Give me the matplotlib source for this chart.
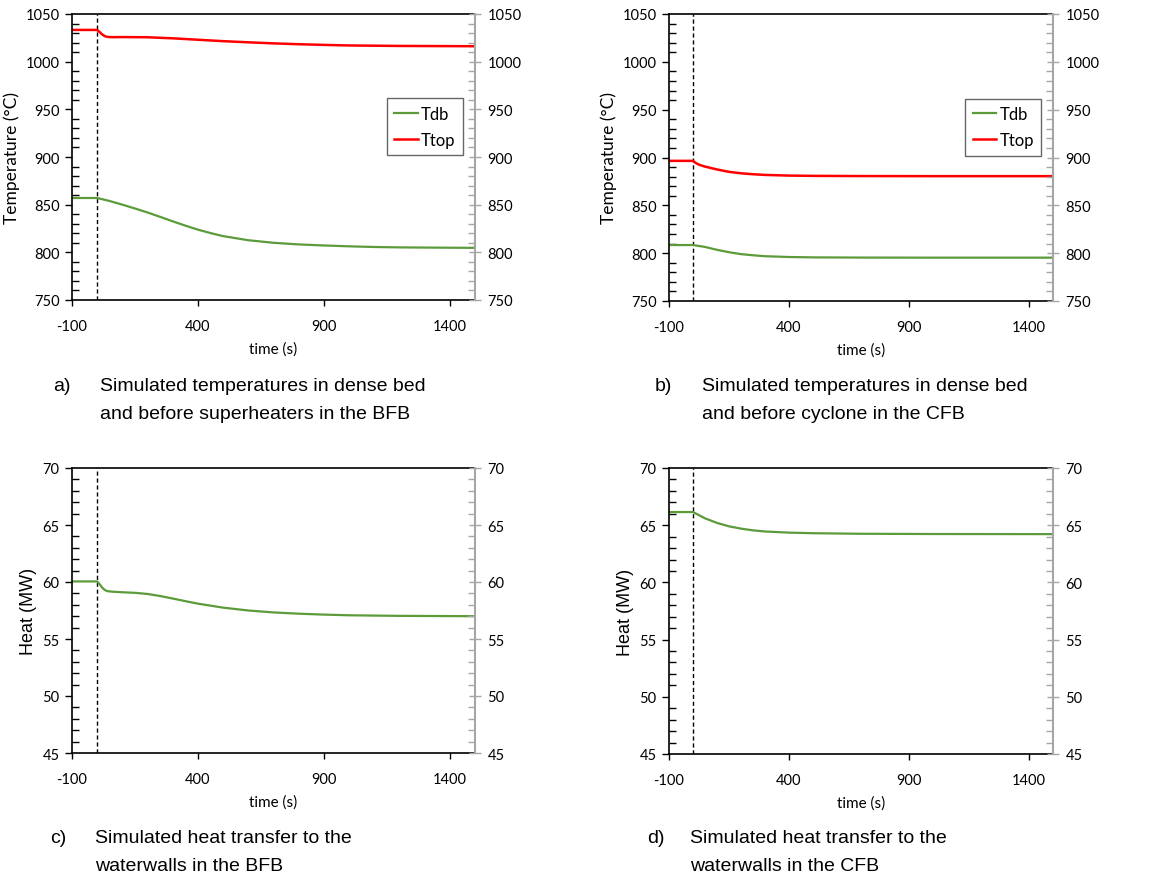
import matplotlib.pyplot as plt
from matplotlib.ticker import MultipleLocator

plt.rcParams['axes.unicode_minus'] = False

# Panel a: BFB temperatures
t_a_db = [-100, 0, 50, 100, 150, 200, 250, 300, 350, 400, 450, 500, 600, 700, 800, 900, 1000, 1100, 1200, 1300, 1500]
Tdb_a = [857, 857, 853.8, 850, 846, 841.8, 837.2, 832.5, 828, 823.8, 820.2, 817, 812.7, 810, 808.3, 807.2, 806.3, 805.6, 805.2, 805, 804.7]
t_a_top = [-100, 0, 10, 20, 30, 40, 60, 100, 200, 300, 400, 500, 600, 700, 800, 900, 1000, 1200, 1500]
Ttop_a = [1033.3, 1033.3, 1031, 1028.5, 1026.8, 1026, 1025.7, 1025.8, 1025.6, 1024.5, 1023, 1021.5, 1020.3, 1019.2, 1018.3, 1017.6, 1017, 1016.5, 1016.2]

# Panel b: CFB temperatures
t_b_db = [-100, 0, 50, 100, 150, 200, 250, 300, 400, 500, 700, 1000, 1500]
Tdb_b = [808.5, 808.5, 806.5, 803.5, 801, 799, 797.8, 796.8, 796, 795.6, 795.4, 795.3, 795.3]
t_b_top = [-100, 0, 10, 25, 50, 100, 150, 200, 250, 300, 400, 500, 700, 1000, 1500]
Ttop_b = [896.5, 896.5, 894.5, 892.5, 890.5, 887.5, 885, 883.5, 882.5, 881.8, 881.1, 880.8, 880.6, 880.5, 880.5]

# Panel c: BFB waterwall heat
t_c = [-100, 0, 10, 20, 30, 40, 60, 100, 150, 200, 250, 300, 350, 400, 500, 600, 700, 800, 900, 1000, 1200, 1500]
Q_c = [60.05, 60.05, 59.8, 59.5, 59.3, 59.2, 59.15, 59.1, 59.05, 58.95, 58.77, 58.55, 58.32, 58.1, 57.75, 57.5, 57.33, 57.22, 57.14, 57.08, 57.03, 57.0]

# Panel d: CFB waterwall heat
t_d = [-100, 0, 50, 100, 150, 200, 250, 300, 400, 500, 700, 1000, 1500]
Q_d = [66.15, 66.15, 65.6, 65.2, 64.9, 64.7, 64.55, 64.45, 64.35, 64.3, 64.25, 64.23, 64.22]

xticks = [-100, 400, 900, 1400]
captions = [
    ("a)", ["Simulated temperatures in dense bed", "and before superheaters in the BFB"]),
    ("b)", ["Simulated temperatures in dense bed", "and before cyclone in the CFB"]),
    ("c)", ["Simulated heat transfer to the", "waterwalls in the BFB"]),
    ("d)", ["Simulated heat transfer to the", "waterwalls in the CFB"]),
]

GREEN = '#5b9b3a'
RED = '#ff0000'
GRAY = '#a6a6a6'
W, H = 1167, 879
tick_font = 'Lato'

fig = plt.figure(figsize=(W / 100, H / 100), dpi=100)


def make_axes(left, right, top, bottom, ylim, ymajor, yminor, ylabel, ylabel_font, ylabel_size):
    ax = fig.add_axes([left / W, 1 - bottom / H, (right - left) / W, (bottom - top) / H])
    ax.set_xlim(-100, 1500)
    ax.set_ylim(*ylim)
    ax.set_xticks(xticks)
    ax.yaxis.set_major_locator(MultipleLocator(ymajor))
    ax.yaxis.set_minor_locator(MultipleLocator(yminor))
    ax.tick_params(axis='y', which='major', direction='out', length=5, width=1, labelsize=10.5, pad=4)
    ax.tick_params(axis='y', which='minor', direction='in', length=5, width=1)
    ax.tick_params(axis='x', which='major', direction='out', length=4, width=1, labelsize=10.5, pad=10)
    for lab in ax.get_xticklabels() + ax.get_yticklabels():
        lab.set_fontfamily(tick_font)
    ax.spines['right'].set_visible(False)
    for s in ['left', 'bottom', 'top']:
        ax.spines[s].set_linewidth(1.2)
    ax.set_xlabel('time (s)', fontfamily=tick_font, fontsize=11, labelpad=6)
    ax.set_ylabel(ylabel, fontfamily=ylabel_font, fontsize=ylabel_size, labelpad=4)

    ax2 = ax.twinx()
    ax2.set_ylim(*ylim)
    ax2.yaxis.set_major_locator(MultipleLocator(ymajor))
    ax2.yaxis.set_minor_locator(MultipleLocator(yminor))
    ax2.tick_params(axis='y', which='major', direction='inout', length=8, width=1, color=GRAY, labelsize=10.5, pad=5)
    ax2.tick_params(axis='y', which='minor', direction='in', length=5, width=1, color=GRAY)
    for lab in ax2.get_yticklabels():
        lab.set_fontfamily(tick_font)
    for s in ['left', 'bottom', 'top']:
        ax2.spines[s].set_visible(False)
    ax2.spines['right'].set_color(GRAY)
    ax2.spines['right'].set_linewidth(1.5)

    ax.axvline(0, color='black', linestyle=(0, (3, 2)), linewidth=1)
    return ax


ax_a = make_axes(72, 475, 15, 301, (750, 1050), 50, 10, 'Temperature (°C)', tick_font, 12.5)
ax_a.plot(t_a_db, Tdb_a, color=GREEN, linewidth=1.6, label='Tdb')
ax_a.plot(t_a_top, Ttop_a, color=RED, linewidth=1.8, label='Ttop')

ax_b = make_axes(669, 1053, 15, 302, (750, 1050), 50, 10, 'Temperature (°C)', tick_font, 12.5)
ax_b.plot(t_b_db, Tdb_b, color=GREEN, linewidth=1.6, label='Tdb')
ax_b.plot(t_b_top, Ttop_b, color=RED, linewidth=1.8, label='Ttop')

ax_c = make_axes(72, 475, 469, 754, (45, 70), 5, 1, 'Heat (MW)', 'Liberation Sans', 13)
ax_c.plot(t_c, Q_c, color=GREEN, linewidth=1.6)

ax_d = make_axes(669, 1053, 469, 755, (45, 70), 5, 1, 'Heat (MW)', 'Liberation Sans', 13)
ax_d.plot(t_d, Q_d, color=GREEN, linewidth=1.6)

for ax in [ax_a, ax_b]:
    leg = ax.legend(loc='upper right', bbox_to_anchor=(0.97, 0.705),
                    prop={'family': tick_font, 'size': 12},
                    frameon=True, fancybox=False, edgecolor='#404040',
                    handlelength=1.4, handletextpad=0.2, borderpad=0.45, labelspacing=0.6,
                    borderaxespad=0)
    leg.get_frame().set_linewidth(1.0)

# captions under each panel
cap_pos = [(53, 100, 391), (655, 702, 391), (50, 95, 843), (647, 690, 843)]
for (lx, tx, by), (tag, lines) in zip(cap_pos, captions):
    fig.text(lx / W, 1 - by / H, tag, fontfamily='Liberation Sans', fontsize=14, va='baseline')
    for i, line in enumerate(lines):
        fig.text(tx / W, 1 - (by + i * 28) / H, line, fontfamily='Liberation Sans', fontsize=14, va='baseline')

fig.savefig('out.png', dpi=100)
